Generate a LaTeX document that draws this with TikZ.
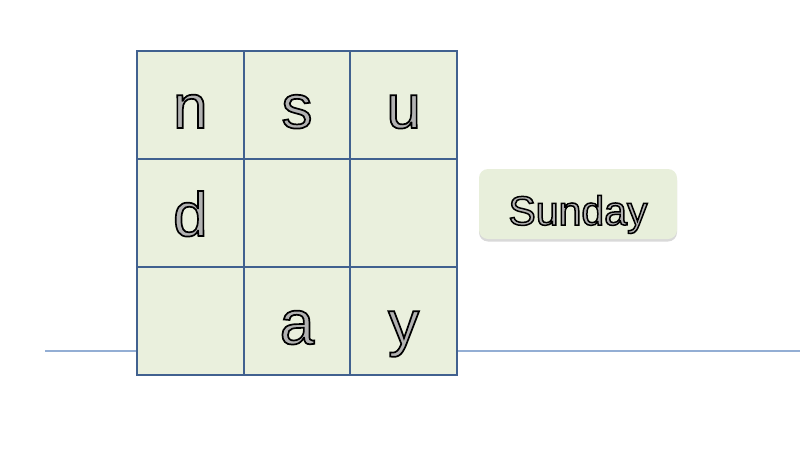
\documentclass[tikz,border=0pt]{standalone}
\usepackage{fontspec}
\setmainfont{Liberation Sans}
\usetikzlibrary{shadows}
\definecolor{cellfill}{HTML}{EAF0DD}
\definecolor{gridline}{HTML}{41618F}
\definecolor{baseln}{HTML}{93AED4}
\definecolor{btnfill}{HTML}{E8EFDB}
\newcommand{\outltext}[1]{\special{pdf:literal direct 2 Tr 1.7 w 0 G}#1\special{pdf:literal direct 0 Tr}}
\newcommand{\outlthin}[1]{\special{pdf:literal direct 2 Tr 1.5 w 0 G}#1\special{pdf:literal direct 0 Tr}}
\tikzset{
  cell/.style={draw=gridline, line width=1.8pt, fill=cellfill, minimum width=106.67pt, minimum height=108pt, inner sep=0pt,
    text height=46pt, text depth=0pt, font=\fontsize{62}{62}\selectfont, text=black!30},
  baseline line/.style={draw=baseln, line width=1.5pt},
  button/.style={fill=btnfill, rounded corners=9pt, minimum width=198pt, minimum height=70pt, inner sep=0pt,
    text height=42pt, text depth=0pt, font=\fontsize{41}{41}\selectfont, text=black!30,
    drop shadow={shadow xshift=0pt, shadow yshift=-2.5pt, opacity=0.3, fill=black!50}}
}
\begin{document}
\begin{tikzpicture}[x=1pt,y=-1pt]
\useasboundingbox (0,0) rectangle (800,450);
\coordinate (lineL) at (45,351);
\coordinate (lineR) at (800,351);
\draw[baseline line] (lineL) -- (lineR);
\node[cell] (c11) at (190.33,105) {\outltext{n}};
\node[cell] (c12) at (297,105) {\outltext{s}};
\node[cell] (c13) at (403.67,105) {\outltext{u}};
\node[cell] (c21) at (190.33,213) {\outltext{d}};
\node[cell] (c22) at (297,213) {};
\node[cell] (c23) at (403.67,213) {};
\node[cell] (c31) at (190.33,321) {};
\node[cell] (c32) at (297,321) {\outltext{a}};
\node[cell] (c33) at (403.67,321) {\outltext{y}};
\node[button] (sunday) at (578,204) {\outlthin{Sunday}};
\end{tikzpicture}
\end{document}
